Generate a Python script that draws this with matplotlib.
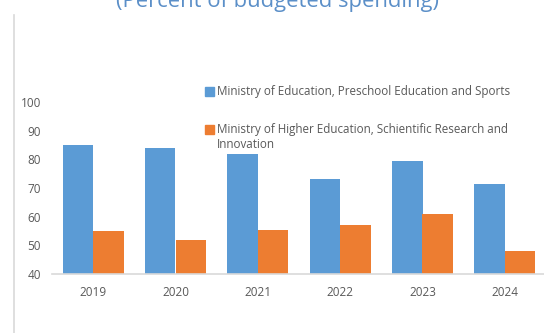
import matplotlib.pyplot as plt
import numpy as np
from matplotlib.patches import Rectangle
from matplotlib.lines import Line2D

plt.rcParams['font.family'] = ['Open Sans', 'DejaVu Sans']

years = ['2019', '2020', '2021', '2022', '2023', '2024']
education = [85, 84, 82, 73, 79.5, 71.5]
higher_education = [55, 52, 55.5, 57, 61, 48]
series_names = ['Ministry of Education, Preschool Education and Sports',
                'Ministry of Higher Education, Schientific Research and\nInnovation']
colors = ['#5b9bd5', '#ed7d31']

W, H = 544, 333
fig = plt.figure(figsize=(W / 100, H / 100), dpi=100)

# plot area in pixel coordinates (left, top, right, bottom)
left, top, right, bottom = 52, 102, 546, 274
ax = fig.add_axes([left / W, 1 - bottom / H, (right - left) / W, (bottom - top) / H])

x = np.arange(len(years))
w = 0.37
ax.bar(x - w / 2, education, w, color=colors[0], zorder=2)
ax.bar(x + w / 2, higher_education, w, color=colors[1], zorder=2)

ax.set_xlim(-0.5, len(years) - 0.5)
ax.set_ylim(40, 100)
ax.set_yticks(range(40, 101, 10))
ax.set_xticks(x, years)
for s in ['top', 'right', 'left']:
    ax.spines[s].set_visible(False)
ax.spines['bottom'].set_color('#d9d9d9')
ax.spines['bottom'].set_linewidth(1.2)
ax.tick_params(axis='both', length=0, labelsize=8.5, colors='#595959')
ax.tick_params(axis='y', pad=8)
ax.tick_params(axis='x', pad=9)
ax.set_facecolor('none')

# legend drawn by hand
def px(xp, yp):
    return xp / W, 1 - yp / H

for name, c, yc in zip(series_names, colors, [91.5, 129.5]):
    fx, fy = px(205, yc + 4.5)
    fig.patches.append(Rectangle((fx, fy), 9 / W, 9 / H, color=c,
                                 transform=fig.transFigure, figure=fig))
    tx, ty = px(217, yc - 6.5)
    fig.text(tx, ty, name, fontsize=8.4, color='#595959', va='top', ha='left',
             linespacing=1.25)

# title, partly cut off at the top edge
tx, ty = px(278, 7)
fig.text(tx, ty, '(Percent of budgeted spending)', fontsize=15.8, color='#5b8fc8',
         ha='center', va='baseline')

# frame line at the left
fig.add_artist(Line2D([14 / W, 14 / W], [0, 1 - 15 / H], color='#d9d9d9',
                      lw=1.2, transform=fig.transFigure))

fig.savefig('out.png', dpi=100)
